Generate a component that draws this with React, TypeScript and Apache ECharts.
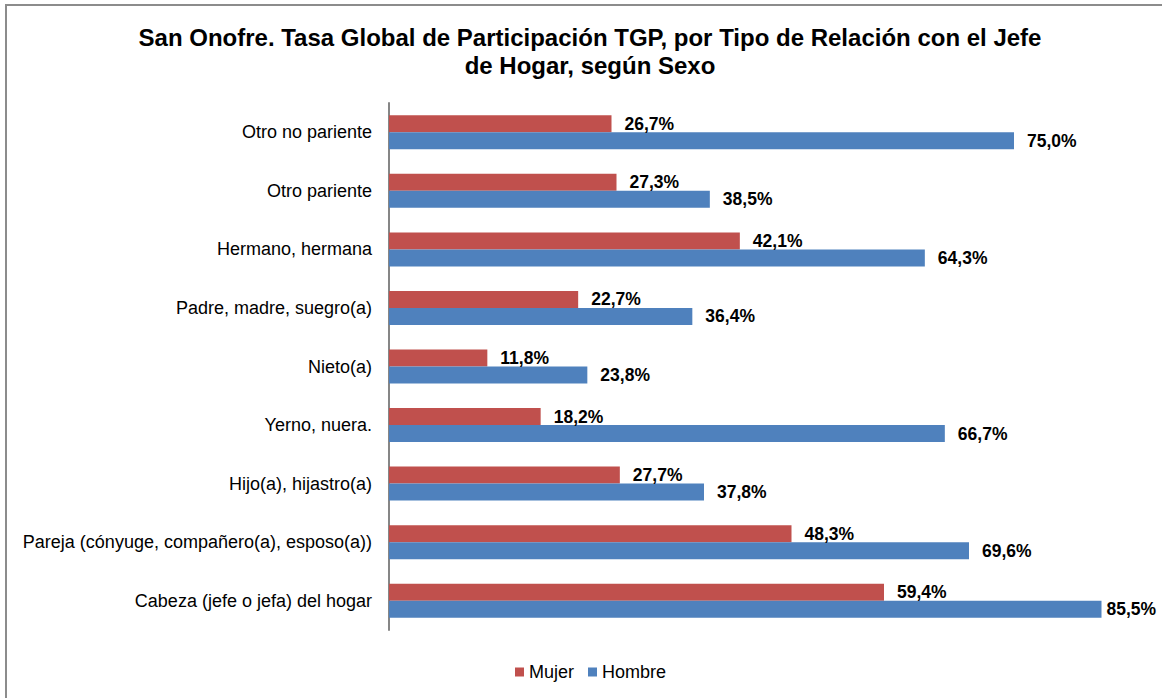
import React, { useEffect, useRef } from "react";
import * as echarts from "echarts";

const categories = [
  "Cabeza (jefe o jefa) del hogar",
  "Pareja (cónyuge, compañero(a), esposo(a))",
  "Hijo(a), hijastro(a)",
  "Yerno, nuera.",
  "Nieto(a)",
  "Padre, madre, suegro(a)",
  "Hermano, hermana",
  "Otro pariente",
  "Otro no pariente",
];
const mujer = [59.4, 48.3, 27.7, 18.2, 11.8, 22.7, 42.1, 27.3, 26.7];
const hombre = [85.5, 69.6, 37.8, 66.7, 23.8, 36.4, 64.3, 38.5, 75.0];
const seriesNames = ["Mujer", "Hombre"];
const titleText =
  "San Onofre. Tasa Global de Participación TGP, por Tipo de Relación con el Jefe\nde Hogar, según Sexo";

const FONT = "'Liberation Sans', Arial, sans-serif";

export default function App() {
  const ref = useRef<HTMLDivElement>(null);
  useEffect(() => {
    if (!ref.current) return;
    const chart = echarts.init(ref.current, undefined, { renderer: "svg" });
    const fmt = (p: any) => p.value.toFixed(1).replace(".", ",") + "%";
    const labelCfg = {
      show: true,
      position: "right",
      distance: 13,
      formatter: fmt,
      fontFamily: FONT,
      fontSize: 17.5,
      fontWeight: "bold",
      color: "#000",
    };
    // labels near the right edge sit closer to their bar so they stay inside the chart
    const withFit = (arr: number[]) =>
      arr.map((v) => (v > 84 ? { value: v, label: { distance: 5 } } : v));
    chart.setOption({
      animation: false,
      backgroundColor: "#fff",
      textStyle: { fontFamily: FONT },
      title: {
        text: titleText,
        left: 585,
        top: 18,
        textAlign: "center",
        textStyle: {
          fontFamily: FONT,
          fontSize: 24,
          fontWeight: "bold",
          color: "#000",
          lineHeight: 28,
        },
      },
      legend: {
        data: seriesNames,
        left: 515,
        top: 663,
        padding: 0,
        itemWidth: 9,
        itemHeight: 9,
        itemGap: 14,
        icon: "rect",
        textStyle: { fontFamily: FONT, fontSize: 18, color: "#000" },
      },
      grid: { left: 389, top: 103, width: 750, height: 527 },
      xAxis: {
        type: "value",
        min: 0,
        max: 90,
        show: false,
        splitLine: { show: false },
      },
      yAxis: {
        type: "category",
        data: categories,
        axisLine: { show: true, lineStyle: { color: "#868686", width: 2 } },
        axisTick: { show: false },
        axisLabel: { margin: 17, fontFamily: FONT, fontSize: 18, color: "#000" },
      },
      series: [
        {
          name: "Mujer",
          type: "bar",
          data: withFit(mujer),
          barWidth: 17,
          barGap: "0%",
          itemStyle: { color: "#C0504D" },
          label: labelCfg,
        },
        {
          name: "Hombre",
          type: "bar",
          data: withFit(hombre),
          barWidth: 17,
          barGap: "0%",
          itemStyle: { color: "#4F81BD" },
          label: labelCfg,
        },
      ],
      graphic: [
        {
          type: "rect",
          shape: { x: 6, y: 5, width: 1300, height: 800 },
          style: { fill: "none", stroke: "#8c8c8c", lineWidth: 2 },
          silent: true,
        },
      ],
    });
    return () => chart.dispose();
  }, []);
  return (
    <div
      ref={ref}
      style={{ position: "fixed", left: 0, top: 0, width: 1162, height: 698 }}
    />
  );
}
